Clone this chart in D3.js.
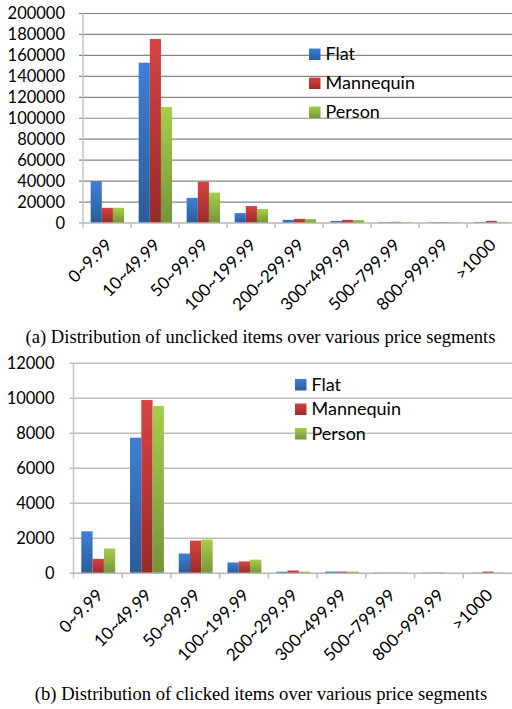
<!DOCTYPE html>
<html>
<head>
<meta charset="utf-8">
<script src="https://cdn.jsdelivr.net/npm/d3@7"></script>
<style>
  body { margin: 0; background: #fff; }
  text { font-family: Lato, "Open Sans", sans-serif; fill: #000; }
  .caption { font-family: "Liberation Serif", "DejaVu Serif", serif; }
</style>
</head>
<body>
<svg width="512" height="709"></svg>
<script>
// price segments shared by both charts
const categories = ['0~9.99', '10~49.99', '50~99.99', '100~199.99', '200~299.99',
  '300~499.99', '500~799.99', '800~999.99', '>1000']
const seriesNames = ['Flat', 'Mannequin', 'Person']

// (a) unclicked items
const unclickedFlat = [40000, 153000, 24000, 9500, 3000, 2000, 1000, 800, 1000]
const unclickedMannequin = [14500, 175700, 39400, 16200, 4000, 3000, 1100, 900, 2000]
const unclickedPerson = [14500, 110700, 29000, 13400, 3800, 2800, 900, 800, 1000]
const unclickedTicks = [0, 20000, 40000, 60000, 80000, 100000, 120000, 140000, 160000, 180000, 200000]

// (b) clicked items
const clickedFlat = [2400, 7750, 1130, 620, 90, 100, 40, 40, 40]
const clickedMannequin = [830, 9900, 1870, 680, 160, 100, 40, 40, 100]
const clickedPerson = [1420, 9560, 1930, 780, 100, 100, 40, 20, 40]
const clickedTicks = [0, 2000, 4000, 6000, 8000, 10000, 12000]

const svg = d3.select('svg')

// gradients like the old office bars: lighter on top, darker at the bottom
const gradColors = [['#3d80d6', '#2b5c99'], ['#d84343', '#982b2a'], ['#a6cd4a', '#74963a']]
const defs = svg.append('defs')
gradColors.forEach((c, i) => {
    const lg = defs.append('linearGradient')
        .attr('id', 'grad' + i)
        .attr('x1', 0).attr('y1', 0).attr('x2', 0).attr('y2', 1)
    lg.append('stop').attr('offset', '0%').attr('stop-color', c[0])
    lg.append('stop').attr('offset', '100%').attr('stop-color', c[1])
})

function drawChart(opt) {
    const g = svg.append('g')
    const rows = categories.map((c, i) => ({ cat: c, vals: opt.series.map(s => s[i]) }))

    const x = d3.scaleBand()
        .domain(categories)
        .range([opt.left, opt.right])
        .padding(0)
    const gap = x.step() * 0.16
    const x1 = d3.scaleBand()
        .domain(d3.range(seriesNames.length))
        .range([gap, x.step() - gap * 0.9])
    const y = d3.scaleLinear()
        .domain([0, d3.max(opt.ticks)])
        .range([opt.bottom, opt.top])

    // horizontal gridlines with small outer ticks
    g.append('g')
        .selectAll('line')
        .data(opt.ticks.slice(1))
        .join('line')
            .attr('x1', opt.left - 4)
            .attr('x2', 512)
            .attr('y1', d => y(d))
            .attr('y2', d => y(d))
            .attr('stroke', opt.gridColor)
            .attr('stroke-width', opt.gridWidth)

    // y labels
    g.append('g')
        .selectAll('text')
        .data(opt.ticks)
        .join('text')
            .attr('x', opt.labelRight)
            .attr('y', d => y(d))
            .attr('dy', '0.36em')
            .attr('text-anchor', 'end')
            .style('font-size', '16.5px')
            .text(d => d)

    // bars
    g.append('g')
        .selectAll('g')
        .data(rows)
        .join('g')
            .attr('transform', d => `translate(${x(d.cat)},0)`)
        .selectAll('rect')
        .data(d => d.vals)
        .join('rect')
            .attr('x', (d, i) => x1(i))
            .attr('width', x1.bandwidth())
            .attr('y', d => y(d))
            .attr('height', d => opt.bottom - y(d))
            .attr('fill', (d, i) => `url(#grad${i})`)

    // axes lines
    g.append('line')
        .attr('x1', opt.left).attr('x2', opt.left)
        .attr('y1', opt.top).attr('y2', opt.bottom + 5)
        .attr('stroke', '#c4c4c4').attr('stroke-width', 1.5)
    g.append('line')
        .attr('x1', opt.left - 4).attr('x2', 512)
        .attr('y1', opt.bottom).attr('y2', opt.bottom)
        .attr('stroke', '#b8b8b8').attr('stroke-width', 1.5)

    // category boundary ticks
    g.append('g')
        .selectAll('line')
        .data(categories.slice(1))
        .join('line')
            .attr('x1', d => x(d)).attr('x2', d => x(d))
            .attr('y1', opt.bottom).attr('y2', opt.bottom + 5)
            .attr('stroke', '#b8b8b8').attr('stroke-width', 1.5)

    // rotated category labels
    g.append('g')
        .selectAll('text')
        .data(categories)
        .join('text')
            .attr('text-anchor', 'end')
            .attr('transform', d => `translate(${x(d) + x.step() / 2 + opt.labelDx},${opt.bottom + opt.labelDy}) rotate(-45)`)
            .style('font-size', '17px')
            .text(d => d)

    // legend
    const lg = g.append('g')
        .selectAll('g')
        .data(seriesNames)
        .join('g')
            .attr('transform', (d, i) => `translate(${opt.legendX},${opt.legendY + i * opt.legendStep})`)
    lg.append('rect')
        .attr('width', 11.5).attr('height', 11.5)
        .attr('fill', (d, i) => `url(#grad${i})`)
    lg.append('text')
        .attr('x', 16.5)
        .attr('y', 11.8)
        .style('font-size', '18px')
        .text(d => d)

    svg.append('text')
        .attr('class', 'caption')
        .attr('x', opt.captionX)
        .attr('y', opt.captionY)
        .attr('text-anchor', 'middle')
        .style('font-size', '18.6px')
        .text(opt.caption)
}

drawChart({
    series: [unclickedFlat, unclickedMannequin, unclickedPerson],
    ticks: unclickedTicks,
    left: 83, right: 515, top: 13.5, bottom: 223,
    labelRight: 65,
    gridColor: '#868686', gridWidth: 1.2,
    labelDx: 6, labelDy: 23,
    legendX: 309, legendY: 48.5, legendStep: 29,
    caption: '(a) Distribution of unclicked items over various price segments',
    captionX: 260.5, captionY: 343
})

drawChart({
    series: [clickedFlat, clickedMannequin, clickedPerson],
    ticks: clickedTicks,
    left: 73.5, right: 512, top: 363.3, bottom: 573.3,
    labelRight: 54.5,
    gridColor: '#bdbdbd', gridWidth: 1.6,
    labelDx: 6, labelDy: 23,
    legendX: 295, legendY: 379, legendStep: 24.5,
    caption: '(b) Distribution of clicked items over various price segments',
    captionX: 261, captionY: 700
})
</script>
</body>
</html>
